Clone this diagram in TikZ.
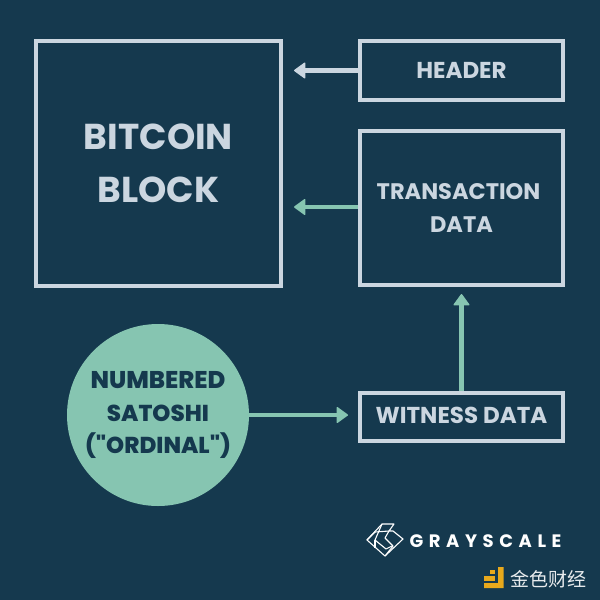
\documentclass[tikz,border=0pt]{standalone}
\usepackage{fontspec}
\setmainfont{Poppins}
\newfontfamily\heavy[Ligatures=TeXOff]{Poppins ExtraBold}
\newfontfamily\cjk{Noto Sans CJK SC}
\usetikzlibrary{arrows.meta}
\definecolor{bg}{HTML}{15394E}
\definecolor{pale}{HTML}{CBD6E0}
\definecolor{mint}{HTML}{86C5B1}
\definecolor{gold}{HTML}{E8A91C}
\tikzset{
  x=1pt,y=-1pt,
  framebox/.style={draw=pale,line width=4.2pt,fill=none,inner sep=0pt,align=center,text=pale,font=\bfseries\fontsize{23}{33}\selectfont},
  link/.style={line width=4.4pt,-{Triangle[length=12pt,width=17pt,line width=1.5pt,round]}},
  logo/.style={draw=white,line width=1.1pt,line join=round}
}
\begin{document}
\begin{tikzpicture}
\useasboundingbox (0,0) rectangle (600,600);
\fill[bg] (0,0) rectangle (600,600);
\node[framebox,minimum width=245pt,minimum height=245pt,font=\bfseries\fontsize{36}{53}\selectfont] (block) at (158.5,163.5) {BITCOIN\\BLOCK};
\node[framebox,minimum width=203pt,minimum height=59pt] (header) at (461.5,70.5) {HEADER};
\node[framebox,minimum width=203pt,minimum height=154pt,font=\bfseries\fontsize{22.5}{33}\selectfont] (tx) at (461.5,208) {TRANSACTION\hspace*{6pt}\\DATA};
\node[framebox,minimum width=203pt,minimum height=48pt] (wit) at (461.5,417) {\raisebox{4pt}{WITNESS DATA}};
\node[circle,fill=mint,minimum size=182pt,inner sep=0pt,align=center,text=bg,font=\heavy\fontsize{23}{32.5}\selectfont] (sat) at (158,415) {{\fontsize{24.2}{32.5}\selectfont NUMBERED}\\SATOSHI\\("ORDINAL")};
\coordinate (hh) at (294,70.5);
\coordinate (th) at (294,207);
\coordinate (wh) at (348,415);
\coordinate (up) at (461.5,294);
\coordinate (txw) at (tx.west |- th);
\draw[link,pale] (header.west) -- (hh);
\draw[link,mint] (txw) -- (th);
\draw[link,mint] (sat.east) -- (wh);
\draw[link,mint] (wit.north) -- (up);
% Grayscale logo
\draw[logo] (367,540) -- (382,524) -- (394,524) -- (389,531) -- (393,531) -- (403,539) -- (385,556) -- cycle;
\draw[logo] (382,524) -- (375,540) -- (386,549) -- (392,546);
\draw[logo] (367,540) -- (375,532) -- (389,531) -- (385,538) -- (393,546) -- (385,556);
\draw[logo] (375,540) -- (375,548);
\node[inner sep=0pt,text=white,font=\bfseries\fontsize{18}{18}\selectfont] (gs) at (485.5,541) {G\hspace{5.6pt}R\hspace{5.6pt}A\hspace{5.6pt}Y\hspace{5.6pt}S\hspace{5.6pt}C\hspace{5.6pt}A\hspace{5.6pt}L\hspace{5.6pt}E};
% Jinse logo
\fill[gold] (498,567) -- (503.5,567) -- (503.5,588) -- (484,588) -- (484,583) -- (498,583) -- cycle;
\fill[gold] (484,576) rectangle (495,580.5);
\fill[gold] (489.5,570) rectangle (495,574);
\node[inner sep=0pt,anchor=west,text=white!90!bg,font=\cjk\fontsize{19}{19}\selectfont] (js) at (510,579.5) {金色财经};
\end{tikzpicture}
\end{document}
